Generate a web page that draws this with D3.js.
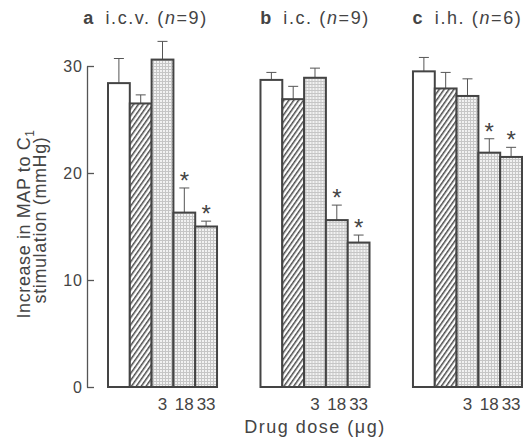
<!DOCTYPE html>
<html>
<head>
<meta charset="utf-8">
<script src="https://d3js.org/d3.v7.min.js"></script>
<style>
  body { margin: 0; background: #fff; }
  text { font-family: "Liberation Sans", Arial, sans-serif; fill: #444; }
</style>
</head>
<body>
<div id="canvas"></div>
<script>
// data
var panels = ['a', 'b', 'c'];
var routes = ['i.c.v.', 'i.c.', 'i.h.'];
var nValues = [9, 9, 6];
var means = [
  [28.4, 26.5, 30.6, 16.3, 15.0],
  [28.7, 26.9, 28.9, 15.6, 13.5],
  [29.5, 27.9, 27.2, 21.9, 21.5]
];
var sems = [
  [2.3, 0.8, 1.7, 2.3, 0.5],
  [0.7, 1.2, 0.9, 1.4, 0.7],
  [1.3, 1.5, 1.6, 1.3, 0.9]
];
var doses = ['', '', '3', '18', '33'];
var fills = ['white', 'hatch', 'dots', 'dots', 'dots'];
var significant = [false, false, false, true, true];
var yTicks = [0, 10, 20, 30];

var W = 527, H = 437;
var svg = d3.select('#canvas').append('svg')
    .attr('width', W)
    .attr('height', H);

var defs = svg.append('defs');
var hatch = defs.append('pattern')
    .attr('id', 'hatch')
    .attr('patternUnits', 'userSpaceOnUse')
    .attr('width', 4).attr('height', 4)
    .attr('patternTransform', 'rotate(35)');
hatch.append('rect').attr('width', 4).attr('height', 4).attr('fill', '#fff');
hatch.append('rect').attr('width', 1.5).attr('height', 4).attr('fill', '#4a4a4a');

var dots = defs.append('pattern')
    .attr('id', 'dots')
    .attr('patternUnits', 'userSpaceOnUse')
    .attr('width', 3).attr('height', 3);
dots.append('rect').attr('width', 3).attr('height', 3).attr('fill', '#f2f2f2');
dots.append('rect').attr('width', 3).attr('height', 1).attr('fill', '#c6c6c6');
dots.append('rect').attr('width', 1).attr('height', 3).attr('fill', '#c6c6c6');

var scaleY = d3.scaleLinear().domain([0, 30]).range([387, 66]);

var scalePanel = d3.scaleBand()
    .domain(panels)
    .range([108, 522])
    .paddingInner(0.285)
    .paddingOuter(0);

var scaleBar = d3.scaleBand()
    .domain(d3.range(5))
    .range([0, scalePanel.bandwidth()])
    .padding(0);

// y axis, ticks pointing inwards
var axisY = d3.axisLeft(scaleY)
    .tickValues(yTicks)
    .tickSizeInner(-7)
    .tickSizeOuter(0)
    .tickPadding(4);

var gAxis = svg.append('g')
    .attr('transform', 'translate(87,0)')
    .call(axisY);
gAxis.selectAll('path, line').attr('stroke', '#555').attr('stroke-width', 1.3);
gAxis.selectAll('text')
    .style('font-size', '16px')
    .style('letter-spacing', '1px')
    .style('font-family', '"Liberation Sans", Arial, sans-serif')
    .attr('fill', '#555');

// y title
var yTitle = svg.append('text')
    .attr('transform', 'translate(30,224) rotate(-90)')
    .attr('text-anchor', 'middle')
    .style('font-size', '18px')
    .style('letter-spacing', '0.6px');
yTitle.append('tspan').attr('x', 0).attr('dy', 0).text('Increase in MAP to C');
yTitle.append('tspan').attr('dy', 4).style('font-size', '12px').text('1');
yTitle.append('tspan').attr('x', 4).attr('dy', 12).text('stimulation (mmHg)');

var gPanels = svg.selectAll('.panel')
    .data(panels)
    .enter()
    .append('g')
    .attr('class', 'panel')
    .attr('transform', function(d) { return 'translate(' + scalePanel(d) + ',0)'; });

gPanels.each(function(p, pi) {
  var g = d3.select(this);
  var rows = means[pi].map(function(m, i) {
    return { i: i, mean: m, sem: sems[pi][i] };
  });
  var cx = function(d) { return scaleBar(d.i) + scaleBar.bandwidth() / 2; };

  // error bars first so the bars cover their lower end
  var err = g.selectAll('.err')
      .data(rows)
      .enter()
      .append('g')
      .attr('class', 'err');
  err.append('line')
      .attr('x1', cx)
      .attr('x2', cx)
      .attr('y1', function(d) { return scaleY(d.mean); })
      .attr('y2', function(d) { return scaleY(d.mean + d.sem); })
      .attr('stroke', '#555').attr('stroke-width', 1);
  err.append('line')
      .attr('x1', function(d) { return cx(d) - 5; })
      .attr('x2', function(d) { return cx(d) + 5; })
      .attr('y1', function(d) { return scaleY(d.mean + d.sem); })
      .attr('y2', function(d) { return scaleY(d.mean + d.sem); })
      .attr('stroke', '#555').attr('stroke-width', 1);

  g.selectAll('.bar')
      .data(rows)
      .enter()
      .append('rect')
      .attr('class', 'bar')
      .attr('x', function(d) { return scaleBar(d.i); })
      .attr('y', function(d) { return scaleY(d.mean); })
      .attr('width', scaleBar.bandwidth())
      .attr('height', function(d) { return scaleY(0) - scaleY(d.mean); })
      .attr('fill', function(d) {
        return fills[d.i] === 'white' ? '#fff' : 'url(#' + fills[d.i] + ')';
      })
      .attr('stroke', '#444')
      .attr('stroke-width', 2);

  g.selectAll('.star')
      .data(rows.filter(function(d) { return significant[d.i]; }))
      .enter()
      .append('text')
      .attr('class', 'star')
      .attr('x', cx)
      .attr('y', function(d) { return scaleY(d.mean + d.sem) + 1; })
      .attr('text-anchor', 'middle')
      .style('font-size', '24px')
      .text('*');

  g.selectAll('.dose')
      .data(rows.filter(function(d) { return doses[d.i] !== ''; }))
      .enter()
      .append('text')
      .attr('class', 'dose')
      .attr('x', cx)
      .attr('y', 410)
      .attr('text-anchor', 'middle')
      .style('font-size', '17px')
      .text(function(d) { return doses[d.i]; });

  // panel title
  var title = g.append('text')
      .attr('x', scalePanel.bandwidth() / 2 + (pi === 0 ? -17 : 0))
      .attr('y', 24)
      .attr('text-anchor', 'middle')
      .style('font-size', '18px')
      .style('letter-spacing', '1.6px');
  title.append('tspan').style('font-weight', 'bold').text(p);
  title.append('tspan').text('\u2002' + routes[pi] + ' (');
  title.append('tspan').style('font-style', 'italic').text('n');
  title.append('tspan').text('=' + nValues[pi] + ')');
});

svg.append('text')
    .attr('x', 315)
    .attr('y', 433)
    .attr('text-anchor', 'middle')
    .style('font-size', '18px')
    .style('letter-spacing', '1.5px')
    .text('Drug dose (\u03bcg)');
</script>
</body>
</html>
